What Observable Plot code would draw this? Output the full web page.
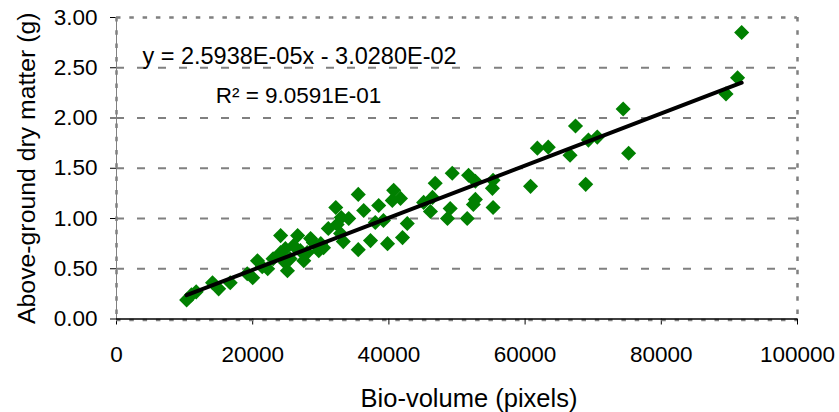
<!DOCTYPE html>
<html>
<head>
<meta charset="utf-8">
<script src="https://cdn.jsdelivr.net/npm/d3@7"></script>
<script src="https://cdn.jsdelivr.net/npm/@observablehq/plot@0.6"></script>
<style>
  html, body { margin: 0; padding: 0; background: #fff; }
  #chart svg { display: block; }
</style>
</head>
<body>
<div id="chart"></div>
<script>
// Data
const bioVolume = [
  10300, 11000, 11700, 14100, 15000, 16700, 19200, 20000, 20700, 21400,
  22200, 23000, 24100, 24800, 24100, 25100, 24800, 25500, 26000, 26600,
  27000, 27500, 28000, 28500, 28900, 29700, 30000, 30400, 31100, 32200,
  32400, 32900, 33000, 33300, 34100, 35500, 35500, 36300, 37300, 38000,
  38500, 39200, 39800, 40500, 40700, 41700, 42000, 42700, 45100, 46100,
  46400, 46800, 48600, 49000, 49300, 51500, 51700, 52400, 52700, 52700,
  55200, 55300, 55300, 60800, 61800, 63400, 66600, 67400, 68900, 69300,
  70600, 74400, 75200, 89500, 91200, 91800
];
const dryMatter = [
  0.19, 0.24, 0.27, 0.36, 0.30, 0.36, 0.45, 0.41, 0.58, 0.52,
  0.50, 0.60, 0.83, 0.70, 0.66, 0.48, 0.56, 0.60, 0.73, 0.83,
  0.68, 0.58, 0.66, 0.80, 0.76, 0.68, 0.75, 0.71, 0.90, 1.11,
  0.94, 0.85, 1.01, 0.77, 1.00, 1.24, 0.69, 1.08, 0.78, 0.96,
  1.13, 0.98, 0.75, 1.18, 1.28, 1.20, 0.81, 0.95, 1.16, 1.07,
  1.21, 1.35, 1.00, 1.10, 1.45, 1.00, 1.43, 1.14, 1.19, 1.37,
  1.30, 1.38, 1.11, 1.32, 1.70, 1.71, 1.63, 1.92, 1.34, 1.78,
  1.81, 2.09, 1.65, 2.24, 2.40, 2.85
];
const trendSlope = 2.5938e-5;
const trendIntercept = -3.0280e-2;
const equationText = "y = 2.5938E-05x - 3.0280E-02";
const r2Text = "R\u00B2 = 9.0591E-01";
const xTicks = [0, 20000, 40000, 60000, 80000, 100000];
const yTicks = [0, 0.5, 1.0, 1.5, 2.0, 2.5, 3.0];
const yGrid = [0.5, 1.0, 1.5, 2.0, 2.5];
const xTitle = "Bio-volume (pixels)";
const yTitle = "Above-ground dry matter (g)";

const points = bioVolume.map((x, i) => ({x, y: dryMatter[i]}));
const trendX = [d3.min(bioVolume), d3.max(bioVolume)];

const gray = "#808080";
const dotted = "4.5,8.8";

const chart = Plot.plot({
  width: 839,
  height: 412,
  marginLeft: 116,
  marginRight: 42,
  marginTop: 17,
  marginBottom: 93.5,
  style: {
    fontFamily: "'Liberation Sans', Arial, sans-serif",
    fontSize: "22.5px",
    color: "#000",
    background: "#fff",
    overflow: "visible"
  },
  x: {domain: [0, 100000], ticks: xTicks, tickFormat: d => String(d), tickSize: 6, tickPadding: 21, label: null},
  y: {domain: [0, 3], ticks: yTicks, tickFormat: d3.format(".2f"), tickSize: 6, tickPadding: 13, label: null},
  marks: [
    Plot.ruleY(yGrid, {stroke: gray, strokeWidth: 1.8, strokeDasharray: "8,13"}),
    Plot.ruleY([3], {stroke: gray, strokeWidth: 2.5, strokeDasharray: dotted}),
    Plot.ruleX([100000], {stroke: gray, strokeWidth: 2.5, strokeDasharray: dotted}),
    Plot.ruleX([0], {stroke: gray, strokeWidth: 2.5, strokeDasharray: dotted}),
    Plot.ruleX([0], {stroke: gray, strokeWidth: 1}),
    Plot.ruleY([0], {stroke: gray, strokeWidth: 2.5, strokeDasharray: dotted, dy: 1}),
    Plot.ruleY([0], {stroke: "#000", strokeWidth: 1.5}),
    Plot.dot(points, {x: "x", y: "y", symbol: "diamond2", r: 6.8, fill: "#008000", stroke: "none"}),
    Plot.line(trendX, {x: d => d, y: d => trendSlope * d + trendIntercept, stroke: "#000", strokeWidth: 4}),
    Plot.text([equationText], {text: d => d, frameAnchor: "top-left", dx: 183, dy: 39, textAnchor: "middle", lineAnchor: "middle", fontSize: 23.5}),
    Plot.text([r2Text], {text: d => d, frameAnchor: "top-left", dx: 182, dy: 78, textAnchor: "middle", lineAnchor: "middle", fontSize: 22.5}),
    Plot.text([xTitle], {text: d => d, frameAnchor: "bottom", dx: 12, dy: 80, textAnchor: "middle", lineAnchor: "middle", fontSize: 25.5}),
    Plot.text([yTitle], {text: d => d, frameAnchor: "left", dx: -89, rotate: -90, textAnchor: "middle", lineAnchor: "middle", fontSize: 24.8})
  ]
});
document.getElementById("chart").append(chart);
</script>
</body>
</html>
